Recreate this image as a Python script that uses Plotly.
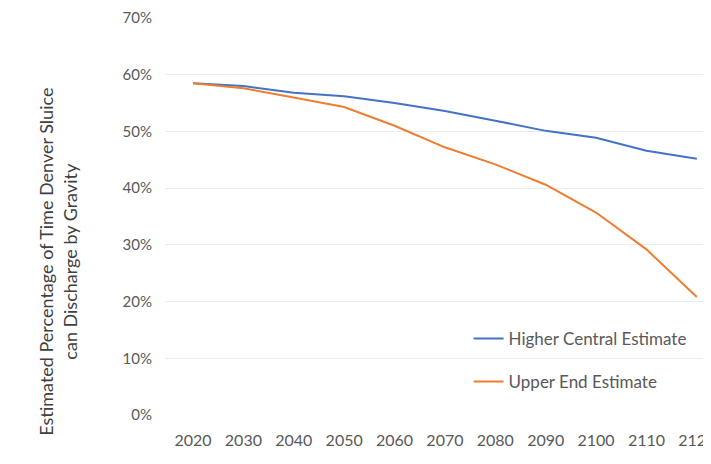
import plotly.graph_objects as go

years = [2020, 2030, 2040, 2050, 2060, 2070, 2080, 2090, 2100, 2110, 2120]
higher_central = [58.5, 58.0, 56.8, 56.2, 55.0, 53.6, 51.9, 50.1, 48.9, 46.6, 45.2]
upper_end = [58.5, 57.6, 56.0, 54.3, 51.0, 47.2, 44.2, 40.6, 35.7, 29.2, 20.8]
series_names = ["Higher Central Estimate", "Upper End Estimate"]
y_title = "Estimated Percentage of Time Denver Sluice<br>can Discharge by Gravity"

FONT = "Lato"
GREY = "#595959"

fig = go.Figure()
fig.add_trace(go.Scatter(x=years, y=[v / 100 for v in higher_central], mode="lines",
                         name=series_names[0], legendgroup="a",
                         line=dict(color="#4472C4", width=2)))
fig.add_trace(go.Scatter(x=years, y=[v / 100 for v in upper_end], mode="lines",
                         name=series_names[1], legendgroup="b",
                         line=dict(color="#ED7D31", width=2)))

fig.update_layout(
    width=711, height=464,
    margin=dict(l=157, r=0, t=10, b=57, autoexpand=False),
    paper_bgcolor="white", plot_bgcolor="white",
    font=dict(family=FONT, color=GREY, size=14),
    showlegend=True,
    legend=dict(x=0.548, y=0.237, xanchor="left", yanchor="top",
                bgcolor="rgba(0,0,0,0)", font=dict(size=17, color=GREY),
                traceorder="grouped", tracegroupgap=18, itemwidth=30),
    xaxis=dict(range=[2014.44, 2124.4], tickmode="array", tickvals=years,
               ticktext=[str(y) for y in years], showgrid=False, zeroline=False,
               showline=False, ticks="", ticklabeloverflow="allow",
               ticklabelstandoff=14,
               tickfont=dict(size=16, color=GREY)),
    yaxis=dict(range=[0, 0.7], dtick=0.1, tickformat=".0%", showgrid=True,
               gridcolor="#ececec", gridwidth=1, zeroline=False, showline=False,
               ticks="", ticklabelstandoff=12, ticklabeloverflow="allow",
               tickfont=dict(size=15, color=GREY)),
)
fig.add_annotation(text=y_title, xref="paper", yref="paper", x=-0.193, xanchor="center",
                   y=0.386, yanchor="middle",
                   textangle=-90, showarrow=False,
                   font=dict(size=18, color="#404040", family=FONT))

fig.write_html("out.html")
